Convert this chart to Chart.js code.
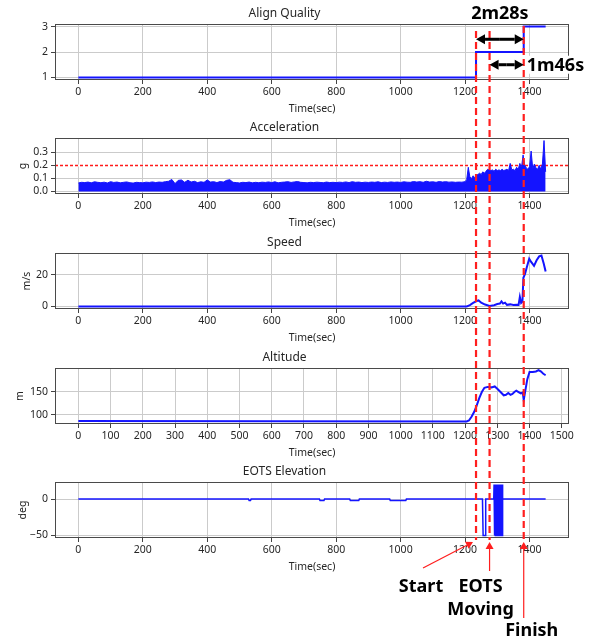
<!DOCTYPE html>
<html>
<head>
<meta charset="utf-8">
<script src="https://cdn.jsdelivr.net/npm/chart.js@4.4.1/dist/chart.umd.min.js"></script>
<style>
  body { margin: 0; background: #fff; }
  #board { position: relative; width: 597px; height: 641px; overflow: hidden; background: #fff; }
  #board canvas { position: absolute; left: 0; }
</style>
</head>
<body>
<div id="board">
  <canvas id="alignChart" width="597" height="120" style="top:0px"></canvas>
  <canvas id="accChart" width="597" height="120" style="top:114px"></canvas>
  <canvas id="speedChart" width="597" height="120" style="top:229px"></canvas>
  <canvas id="altChart" width="597" height="120" style="top:344px"></canvas>
  <canvas id="eotsChart" width="597" height="120" style="top:458px"></canvas>
  <canvas id="overlay" width="597" height="641" style="top:0px"></canvas>
</div>
<script>
// ---------- data ----------
const timeTicks = [0, 200, 400, 600, 800, 1000, 1200, 1400];
const altTimeTicks = [0, 100, 200, 300, 400, 500, 600, 700, 800, 900, 1000, 1100, 1200, 1300, 1400, 1500];

// start / EOTS moving / finish (sec)
const eventTimes = [1234, 1276, 1382];
const durationLabels = ['2m28s', '1m46s'];

const alignTime = [0, 1234, 1382, 1450];
const alignQuality = [1, 2, 3, 3];
const alignTicks = [1, 2, 3];

// acceleration envelope, every 10 s from 0 to 1190
const accHead = [
  0.065, 0.070, 0.068, 0.072, 0.066, 0.074, 0.070, 0.067, 0.071, 0.065,
  0.075, 0.069, 0.072, 0.066, 0.070, 0.073, 0.067, 0.064, 0.070, 0.068,
  0.066, 0.071, 0.069, 0.073, 0.068, 0.072, 0.070, 0.075, 0.078, 0.092,
  0.060, 0.085, 0.088, 0.070, 0.086, 0.072, 0.078, 0.068, 0.074, 0.070,
  0.088, 0.072, 0.075, 0.068, 0.076, 0.072, 0.085, 0.090, 0.070, 0.068,
  0.065, 0.070, 0.068, 0.072, 0.066, 0.070, 0.067, 0.071, 0.069, 0.073,
  0.068, 0.074, 0.066, 0.070, 0.072, 0.075, 0.069, 0.073, 0.076, 0.070,
  0.068, 0.066, 0.070, 0.068, 0.071, 0.069, 0.067, 0.072, 0.068, 0.070,
  0.068, 0.071, 0.069, 0.073, 0.068, 0.075, 0.070, 0.072, 0.068, 0.071,
  0.069, 0.072, 0.070, 0.074, 0.068, 0.071, 0.069, 0.073, 0.070, 0.072,
  0.069, 0.074, 0.071, 0.070, 0.076, 0.072, 0.075, 0.070, 0.078, 0.072,
  0.074, 0.070, 0.076, 0.072, 0.075, 0.071, 0.073, 0.070, 0.072, 0.071
];
// every 5 s from 1200 to 1450
const accTail = [
  0.075, 0.090, 0.185, 0.110, 0.100, 0.120, 0.105, 0.125, 0.130, 0.140,
  0.130, 0.150, 0.140, 0.155, 0.170, 0.165, 0.160, 0.165, 0.155, 0.170,
  0.160, 0.165, 0.160, 0.170, 0.160, 0.165, 0.170, 0.160, 0.215, 0.165,
  0.170, 0.160, 0.185, 0.170, 0.215, 0.180, 0.280, 0.200, 0.180, 0.170,
  0.190, 0.310, 0.175, 0.210, 0.180, 0.170, 0.200, 0.170, 0.210, 0.390,
  0.150
];
const accLimit = 0.2;
const accTicks = [0, 0.1, 0.2, 0.3];

const speedTime = [0, 1205, 1215, 1225, 1236, 1242, 1250, 1262, 1276, 1290, 1300, 1308, 1313, 1318, 1324, 1330, 1340, 1350, 1360, 1366, 1370, 1374, 1378, 1381, 1386, 1392, 1399, 1405, 1414, 1422, 1430, 1437, 1444, 1450];
const speedValue = [0, 0, 0.8, 2.2, 3.4, 3.8, 2.4, 1.2, 0.3, 0.8, 1.5, 1.8, 3.2, 1.8, 2.4, 1.0, 1.3, 0.9, 1.1, 1.0, 6.0, 2.2, 3.0, 18, 20.5, 25, 30, 28, 25.5, 29, 31.5, 32, 27, 22];
const speedTicks = [0, 20];

const altTime = [0, 600, 1205, 1212, 1220, 1228, 1236, 1244, 1252, 1260, 1270, 1282, 1292, 1300, 1310, 1320, 1327, 1334, 1341, 1347, 1353, 1359, 1366, 1373, 1379, 1382, 1387, 1393, 1400, 1410, 1420, 1428, 1436, 1443, 1450];
const altValue = [87, 86.5, 86, 88, 96, 106, 120, 136, 149, 158, 160, 159, 161, 156, 149, 142, 143, 147, 143, 145, 149, 152, 149, 146, 148, 132, 152, 176, 192, 192, 193, 196, 193, 188, 185];
const altTicks = [100, 150];

const eotsTime = [0, 528, 530, 534, 536, 748, 750, 762, 764, 842, 844, 870, 872, 966, 968, 1016, 1018,
  1254, 1256, 1262, 1264, 1289,
  1290, 1291, 1292, 1294, 1295, 1297, 1298, 1300, 1302, 1303, 1305, 1306, 1308, 1309, 1311, 1312, 1314, 1315, 1316,
  1317, 1450];
const eotsValue = [0, 0, -2, -2, 0, 0, -2, -2, 0, 0, -2, -2, 0, 0, -2, -2, 0,
  0, -50, -50, 0, 0,
  20, -50, 20, -50, 20, -50, 20, -50, 20, -50, 20, -50, 20, -50, 20, -50, 20, -50, 20,
  0, 0];
const eotsTicks = [-50, 0];

// ---------- styling ----------
const FONT = "'Noto Sans', 'DejaVu Sans', sans-serif";
const BLUE = '#1414ff';
const RED = '#ff1e1e';
const GRID = '#cbcbcb';
const INK = '#262626';

const pts = (xs, ys) => xs.map((x, i) => ({ x: x, y: ys[i] }));
const fixTicks = list => scale => { scale.ticks = list.map(v => ({ value: v })); };
const minus = v => (v < 0 ? '\u2212' + Math.abs(v) : String(v));

// dark box around the plotting area
const boxFrame = {
  id: 'boxFrame',
  afterDatasetsDraw(chart) {
    const { ctx, chartArea: a } = chart;
    ctx.save();
    ctx.strokeStyle = '#4a4a4a';
    ctx.lineWidth = 1;
    ctx.strokeRect(a.left + 0.5, a.top + 0.5, a.right - a.left - 1, a.bottom - a.top - 1);
    ctx.restore();
  }
};

// horizontal threshold line on the acceleration panel, laid over its grid line
const limitLine = {
  id: 'limitLine',
  beforeDatasetsDraw(chart) {
    const { ctx, chartArea: a, scales } = chart;
    const y = Math.round(scales.y.getPixelForValue(accLimit) - 0.5) + 0.5;
    ctx.save();
    ctx.fillStyle = '#fff';
    ctx.fillRect(a.left, y - 1, a.right - a.left, 2);
    ctx.strokeStyle = '#ff1a1a';
    ctx.lineWidth = 1.3;
    ctx.setLineDash([3, 2]);
    ctx.beginPath();
    ctx.moveTo(a.left, y);
    ctx.lineTo(a.right, y);
    ctx.stroke();
    ctx.restore();
  }
};

function makePanel(id, p) {
  return new Chart(document.getElementById(id), {
    type: 'line',
    data: { datasets: p.datasets },
    options: {
      responsive: false,
      animation: false,
      events: [],
      layout: { padding: { left: 0, right: 28, top: 0, bottom: 0 } },
      elements: { point: { radius: 0 }, line: { tension: 0 } },
      plugins: {
        legend: { display: false },
        tooltip: { enabled: false },
        title: {
          display: true,
          text: p.title,
          color: INK,
          font: { family: FONT, size: 12, weight: 'normal' },
          padding: { top: 6.5, bottom: 3.1 }
        }
      },
      scales: {
        x: {
          type: 'linear',
          min: -72.5,
          max: 1522.5,
          afterFit: s => { s.height = 40; },
          afterBuildTicks: fixTicks(p.xTicks || timeTicks),
          border: { display: false },
          grid: { color: GRID, lineWidth: 1, tickLength: 4, tickColor: '#444', tickWidth: 1 },
          ticks: {
            color: INK, padding: 1.5, maxRotation: 0, autoSkip: false,
            font: { family: FONT, size: 10.5 },
            callback: v => String(v)
          },
          title: {
            display: true, text: 'Time(sec)', color: INK,
            font: { family: FONT, size: 10.5 },
            padding: { top: 0, bottom: 4.5 }
          }
        },
        y: {
          type: 'linear',
          position: 'left',
          min: p.yMin,
          max: p.yMax,
          afterFit: s => { s.width = 55; },
          afterBuildTicks: fixTicks(p.yTicks),
          border: { display: false },
          grid: { color: GRID, lineWidth: 1, tickLength: 4, tickColor: '#444', tickWidth: 1 },
          ticks: {
            color: INK, padding: 3, autoSkip: false,
            font: { family: FONT, size: 10.5 },
            callback: p.yFormat || minus
          },
          title: {
            display: !!p.yTitle, text: p.yTitle, color: INK,
            font: { family: FONT, size: 10.5 },
            padding: { top: p.yTitleOffset, bottom: 0 }
          }
        }
      }
    },
    plugins: [boxFrame].concat(p.plugins || [])
  });
}

const lineSet = (data, width) => ({
  data: data, borderColor: BLUE, borderWidth: width, pointRadius: 0, fill: false
});

const alignChart = makePanel('alignChart', {
  title: 'Align Quality',
  yMin: 0.9, yMax: 3.1, yTicks: alignTicks, yTitleOffset: 0,
  datasets: [Object.assign(lineSet(pts(alignTime, alignQuality), 2), { stepped: 'before' })]
});

const accTimeHead = accHead.map((_, i) => i * 10);
const accTimeTail = accTail.map((_, i) => 1200 + i * 5);
const accChart = makePanel('accChart', {
  title: 'Acceleration',
  yMin: -0.0195, yMax: 0.4095, yTicks: accTicks, yTitle: 'g', yTitleOffset: 16.7,
  yFormat: v => v.toFixed(1),
  plugins: [limitLine],
  datasets: [{
    data: pts(accTimeHead.concat(accTimeTail), accHead.concat(accTail)),
    borderColor: BLUE, borderWidth: 1, pointRadius: 0,
    fill: 'origin', backgroundColor: BLUE
  }]
});

const speedChart = makePanel('speedChart', {
  title: 'Speed',
  yMin: -1.6, yMax: 33.6, yTicks: speedTicks, yTitle: 'm/s', yTitleOffset: 20.7,
  datasets: [lineSet(pts(speedTime, speedValue), 2)]
});

const altChart = makePanel('altChart', {
  title: 'Altitude',
  yMin: 80.5, yMax: 200.5, yTicks: altTicks, yTitle: 'm', yTitleOffset: 13.7,
  xTicks: altTimeTicks,
  datasets: [lineSet(pts(altTime, altValue), 2)]
});

const eotsChart = makePanel('eotsChart', {
  title: 'EOTS Elevation',
  yMin: -53.5, yMax: 23.5, yTicks: eotsTicks, yTitle: 'deg', yTitleOffset: 16.7,
  datasets: [lineSet(pts(eotsTime, eotsValue), 1.5)]
});

// ---------- event markers across all panels ----------
const xOf = t => alignChart.scales.x.getPixelForValue(t);
const [xStart, xEots, xFinish] = eventTimes.map(xOf);
const ov = document.getElementById('overlay').getContext('2d');

ov.save();
ov.strokeStyle = RED;
ov.lineWidth = 2.2;
ov.setLineDash([7, 4]);
[[xStart, 31], [xEots, 31], [xFinish, 26]].forEach(([x, top]) => {
  ov.beginPath();
  ov.moveTo(x, top);
  ov.lineTo(x, 540);
  ov.stroke();
});
ov.restore();

function arrow(ctx, x0, y0, x1, y1, head, half) {
  const a = Math.atan2(y1 - y0, x1 - x0);
  const bx = x1 - head * Math.cos(a), by = y1 - head * Math.sin(a);
  ctx.beginPath();
  ctx.moveTo(x0, y0);
  ctx.lineTo(bx, by);
  ctx.stroke();
  ctx.beginPath();
  ctx.moveTo(x1, y1);
  ctx.lineTo(bx + half * Math.sin(a), by - half * Math.cos(a));
  ctx.lineTo(bx - half * Math.sin(a), by + half * Math.cos(a));
  ctx.closePath();
  ctx.fill();
}

// durations between events
const yLong = alignChart.scales.y.getPixelForValue(2.5);
const yShort = alignChart.scales.y.getPixelForValue(1.5);
ov.save();
ov.strokeStyle = '#000';
ov.fillStyle = '#000';
ov.lineWidth = 3;
const mid = (xStart + xFinish) / 2;
arrow(ov, mid, yLong, xStart, yLong, 9, 5);
arrow(ov, mid, yLong, xFinish, yLong, 9, 5);
const midS = (xEots + xFinish) / 2;
arrow(ov, midS, yShort, xEots, yShort, 9, 5);
arrow(ov, midS, yShort, xFinish, yShort, 9, 5);

ov.font = "bold 18px " + FONT;
ov.textBaseline = 'middle';
ov.textAlign = 'center';
ov.fillText(durationLabels[0], mid, 14);
ov.textAlign = 'left';
const w = ov.measureText(durationLabels[1]).width;
ov.fillStyle = '#fff';
ov.fillRect(xFinish + 3, yShort - 9, w + 2, 18);
ov.fillStyle = '#000';
ov.fillText(durationLabels[1], xFinish + 3, yShort + 1);
ov.restore();

// event callouts under the last panel
ov.save();
ov.strokeStyle = RED;
ov.fillStyle = RED;
ov.lineWidth = 1.2;
arrow(ov, xStart - 53, 568, xStart - 3, 542, 7, 4);
arrow(ov, xEots, 571, xEots, 542, 7, 4);
arrow(ov, xFinish, 618, xFinish, 542, 7, 4);
ov.restore();

ov.save();
ov.fillStyle = '#000';
ov.font = "bold 18px " + FONT;
ov.textAlign = 'center';
ov.textBaseline = 'middle';
ov.fillText('Start', xStart - 55, 587);
ov.fillText('EOTS', xEots - 9, 587);
ov.fillText('Moving', xEots - 9, 610);
ov.fillText('Finish', xFinish + 8, 631);
ov.restore();
</script>
</body>
</html>
